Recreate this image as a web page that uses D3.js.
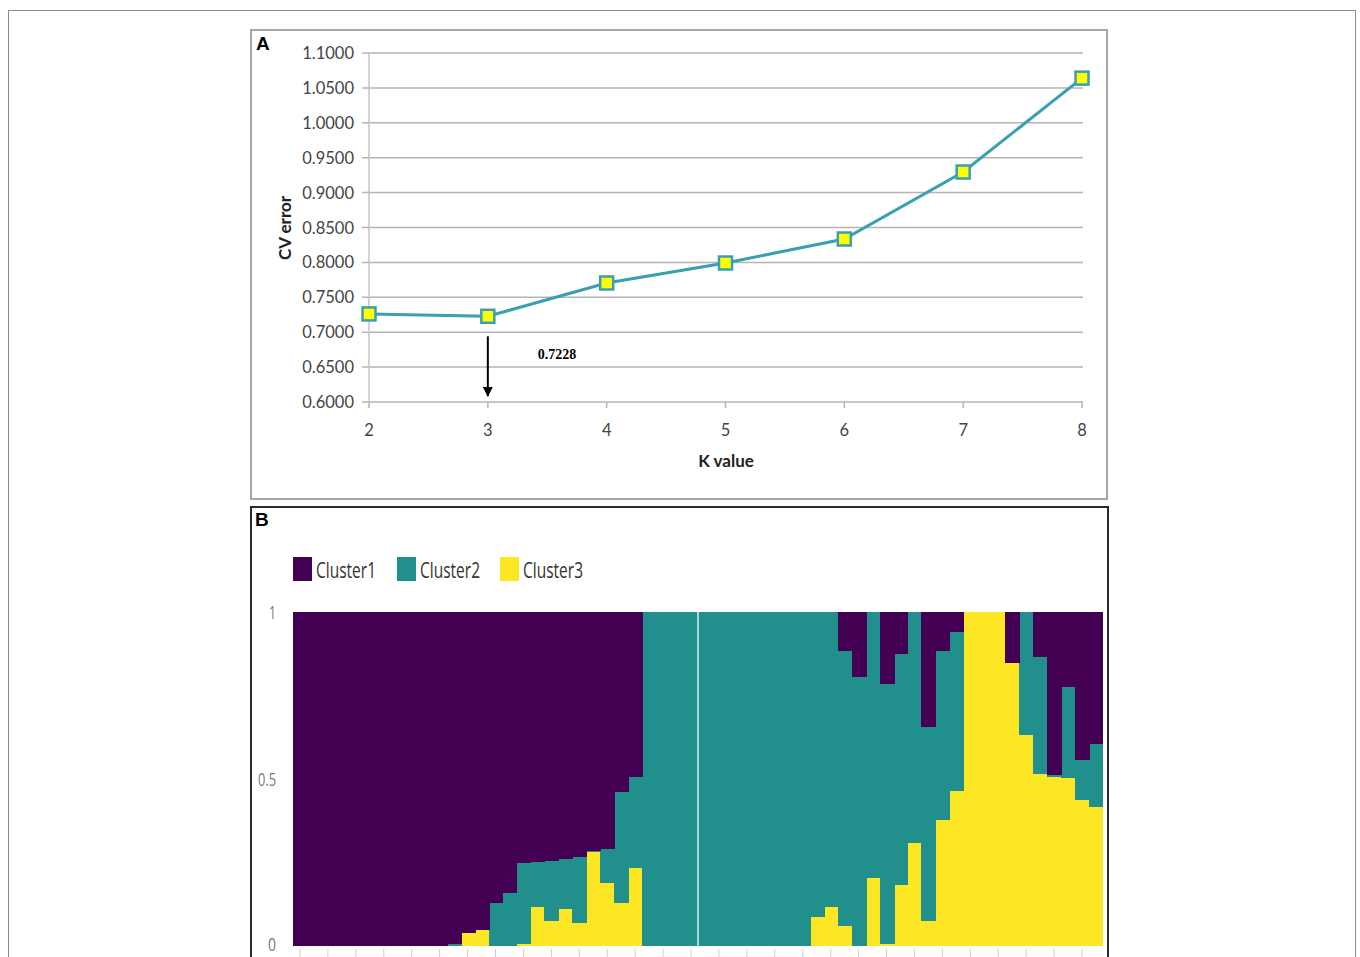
<!DOCTYPE html>
<html>
<head>
<meta charset="utf-8">
<script src="https://cdn.jsdelivr.net/npm/d3@7"></script>
<style>
    body { margin: 0; background: #fff; }
    svg { display: block; }
</style>
</head>
<body>
<script>

// Panel A: CV error by K
let kValues = [2, 3, 4, 5, 6, 7, 8];
let cvError = [0.7262, 0.7228, 0.7705, 0.7991, 0.8335, 0.9295, 1.0640];
let cvTicks = [0.60, 0.65, 0.70, 0.75, 0.80, 0.85, 0.90, 0.95, 1.00, 1.05, 1.10];

// Panel B: ancestry proportions, one entry per individual (58)
let cluster1 = [1, 1, 1, 1, 1, 1, 1, 1, 1, 1,
    1, 0.995, 0.96, 0.953, 0.87, 0.84, 0.75, 0.748, 0.745, 0.74,
    0.734, 0.715, 0.71, 0.54, 0.494, 0, 0, 0, 0, 0,
    0, 0, 0, 0, 0, 0, 0, 0, 0, 0.116,
    0.195, 0, 0.216, 0.126, 0, 0.343, 0.116, 0.06, 0, 0,
    0, 0.153, 0, 0.134, 0.488, 0.225, 0.444, 0.395];
let cluster2 = [0, 0, 0, 0, 0, 0, 0, 0, 0, 0,
    0, 0.005, 0, 0, 0.13, 0.16, 0.245, 0.134, 0.18, 0.15,
    0.198, 0.005, 0.10, 0.33, 0.273, 1, 1, 1, 1, 1,
    1, 1, 1, 1, 1, 1, 1, 0.914, 0.882, 0.824,
    0.805, 0.795, 0.779, 0.692, 0.693, 0.582, 0.508, 0.477, 0, 0,
    0, 0, 0.369, 0.352, 0.005, 0.272, 0.12, 0.188];
let cluster3 = [0, 0, 0, 0, 0, 0, 0, 0, 0, 0,
    0, 0, 0.04, 0.047, 0, 0, 0.005, 0.118, 0.075, 0.11,
    0.068, 0.28, 0.19, 0.13, 0.233, 0, 0, 0, 0, 0,
    0, 0, 0, 0, 0, 0, 0, 0.086, 0.118, 0.06,
    0, 0.205, 0.005, 0.182, 0.307, 0.075, 0.376, 0.463, 1, 1,
    1, 0.847, 0.631, 0.514, 0.507, 0.503, 0.436, 0.417];
let clusterNames = ["Cluster1", "Cluster2", "Cluster3"];
let clusterColors = ["#440154", "#21908d", "#fde725"];
let structTicks = [0, 0.5, 1];
let separators = [29];

let svg = d3.select("body").append("svg")
    .attr("width", 1360)
    .attr("height", 957);

// outer figure frame
svg.append("rect")
    .attr("x", 8.5).attr("y", 10.5)
    .attr("width", 1347).attr("height", 980)
    .attr("fill", "none").attr("stroke", "#8a8a8a");

/* ---------------- Panel A ---------------- */

svg.append("rect")
    .attr("x", 251).attr("y", 30)
    .attr("width", 856).attr("height", 469)
    .attr("fill", "#fff").attr("stroke", "#a6a6a6").attr("stroke-width", 2);

svg.append("text")
    .attr("x", 256).attr("y", 50)
    .attr("font-family", "Liberation Sans, Arial, sans-serif")
    .attr("font-weight", "bold").attr("font-size", 19)
    .text("A");

let xA = d3.scaleLinear().domain([2, 8]).range([369, 1082]);
let yA = d3.scaleLinear().domain([0.6, 1.1]).range([402, 53]);

//gridlines
svg.append("g")
    .selectAll("line")
    .data(cvTicks).enter().append("line")
    .attr("x1", 362)
    .attr("x2", xA(8) + 1)
    .attr("y1", function(d) { return yA(d); })
    .attr("y2", function(d) { return yA(d); })
    .attr("stroke", "#b4b4b4").attr("stroke-width", 1.5);

//y axis line
svg.append("line")
    .attr("x1", xA(2)).attr("x2", xA(2))
    .attr("y1", yA(1.1)).attr("y2", yA(0.6))
    .attr("stroke", "#c4c4c4").attr("stroke-width", 1.5);

//y tick labels
svg.append("g")
    .selectAll("text")
    .data(cvTicks).enter().append("text")
    .attr("x", 354)
    .attr("y", function(d) { return yA(d) + 6; })
    .attr("text-anchor", "end")
    .attr("font-family", "Lato, Open Sans, sans-serif")
    .attr("font-size", 16.5)
    .attr("fill", "#444")
    .text(function(d) { return d3.format(".4f")(d); });

//x axis ticks and labels
let xTickG = svg.append("g")
    .selectAll("g")
    .data(kValues).enter().append("g");

xTickG.append("line")
    .attr("x1", function(d) { return xA(d); })
    .attr("x2", function(d) { return xA(d); })
    .attr("y1", yA(0.6)).attr("y2", yA(0.6) + 6)
    .attr("stroke", "#b4b4b4").attr("stroke-width", 1.5);

xTickG.append("text")
    .attr("x", function(d) { return xA(d); })
    .attr("y", 436)
    .attr("text-anchor", "middle")
    .attr("font-family", "Lato, Open Sans, sans-serif")
    .attr("font-size", 16.5)
    .attr("fill", "#444")
    .text(function(d) { return d; });

//axis titles
svg.append("text")
    .attr("x", 726).attr("y", 467)
    .attr("text-anchor", "middle")
    .attr("font-family", "Lato, Open Sans, sans-serif")
    .attr("font-weight", "bold").attr("font-size", 17)
    .attr("fill", "#222")
    .text("K value");

svg.append("text")
    .attr("transform", "translate(291,228) rotate(-90)")
    .attr("text-anchor", "middle")
    .attr("font-family", "Lato, Open Sans, sans-serif")
    .attr("font-weight", "bold").attr("font-size", 17)
    .attr("fill", "#222")
    .text("CV error");

//line
let cvLine = d3.line()
    .x(function(d, i) { return xA(kValues[i]); })
    .y(function(d) { return yA(d); });

svg.append("path")
    .datum(cvError)
    .attr("d", cvLine)
    .attr("fill", "none")
    .attr("stroke", "#3a9fb3").attr("stroke-width", 3);

//markers
svg.append("g")
    .selectAll("rect")
    .data(cvError).enter().append("rect")
    .attr("x", function(d, i) { return xA(kValues[i]) - 6.5; })
    .attr("y", function(d) { return yA(d) - 6.5; })
    .attr("width", 13).attr("height", 13)
    .attr("fill", "#ffff00")
    .attr("stroke", "#3a9fb3").attr("stroke-width", 2.5);

//arrow pointing at the minimum
let best = cvError[1];
svg.append("defs").append("marker")
    .attr("id", "arrowHead")
    .attr("viewBox", "0 0 10 10")
    .attr("refX", 9).attr("refY", 5)
    .attr("markerWidth", 5).attr("markerHeight", 5)
    .attr("orient", "auto")
    .append("path")
    .attr("d", "M0,0 L10,5 L0,10 z")
    .attr("fill", "#000");

svg.append("line")
    .attr("x1", xA(kValues[1])).attr("x2", xA(kValues[1]))
    .attr("y1", yA(best) + 20).attr("y2", yA(0.6) - 6)
    .attr("stroke", "#000").attr("stroke-width", 2)
    .attr("marker-end", "url(#arrowHead)");

svg.append("text")
    .attr("x", 557).attr("y", 359)
    .attr("text-anchor", "middle")
    .attr("font-family", "Liberation Serif, Times New Roman, serif")
    .attr("font-weight", "bold").attr("font-size", 14)
    .text(best.toFixed(4));

/* ---------------- Panel B ---------------- */

svg.append("rect")
    .attr("x", 251).attr("y", 507)
    .attr("width", 857).attr("height", 480)
    .attr("fill", "#fff").attr("stroke", "#2a2a2a").attr("stroke-width", 2);

svg.append("text")
    .attr("x", 255).attr("y", 526)
    .attr("font-family", "Liberation Sans, Arial, sans-serif")
    .attr("font-weight", "bold").attr("font-size", 19)
    .text("B");

let xB = d3.scaleBand().domain(d3.range(cluster1.length)).range([293, 1103]);
let yB = d3.scaleLinear().domain([0, 1]).range([946, 612]);

let rows = cluster1.map(function(d, i) {
    return {idx: i, Cluster1: d, Cluster2: cluster2[i], Cluster3: cluster3[i]};
});

//yellow at the bottom, then teal, purple on top
let stackKeys = ["Cluster3", "Cluster2", "Cluster1"];
let stacked = d3.stack().keys(stackKeys)(rows);

let layers = svg.append("g")
    .attr("shape-rendering", "crispEdges")
    .selectAll("g")
    .data(stacked).enter().append("g")
    .attr("fill", function(d) { return clusterColors[clusterNames.indexOf(d.key)]; });

layers.selectAll("rect")
    .data(function(d) { return d; }).enter().append("rect")
    .attr("x", function(d) { return xB(d.data.idx); })
    .attr("y", function(d) { return yB(d[1]); })
    .attr("width", function(d) { return d.data.idx === cluster1.length - 1 ? xB.bandwidth() : xB.bandwidth() + 1; })
    .attr("height", function(d) { return Math.max(0, yB(d[0]) - yB(d[1])); });

//population separator
svg.append("g")
    .selectAll("line")
    .data(separators).enter().append("line")
    .attr("x1", function(d) { return xB(d); })
    .attr("x2", function(d) { return xB(d); })
    .attr("y1", yB(1)).attr("y2", yB(0))
    .attr("stroke", "#d8f0ef").attr("stroke-width", 1.5);

//y labels, narrow face
let yLabelWidth = {"0": 8, "0.5": 18, "1": 7};
svg.append("g")
    .selectAll("text")
    .data(structTicks).enter().append("text")
    .attr("x", function(d) { return 276 - yLabelWidth[String(d)]; })
    .attr("y", function(d) { return d === 0 ? yB(d) + 5 : yB(d) + 7; })
    .attr("textLength", function(d) { return yLabelWidth[String(d)]; })
    .attr("lengthAdjust", "spacingAndGlyphs")
    .attr("font-family", "Open Sans, sans-serif")
    .attr("font-size", 19)
    .attr("fill", "#777")
    .text(function(d) { return d; });

//bottom ticks under every other individual
svg.append("g")
    .selectAll("line")
    .data(d3.range(0, cluster1.length, 2)).enter().append("line")
    .attr("x1", function(d) { return xB(d) + xB.bandwidth() / 2; })
    .attr("x2", function(d) { return xB(d) + xB.bandwidth() / 2; })
    .attr("y1", 949).attr("y2", 957)
    .attr("stroke", "#cfcfcf").attr("stroke-width", 1);

//legend
let legendX = [293, 397, 500];
let legend = svg.append("g")
    .selectAll("g")
    .data(clusterNames).enter().append("g")
    .attr("transform", function(d, i) { return "translate(" + legendX[i] + ",557)"; });

legend.append("rect")
    .attr("width", 19).attr("height", 24)
    .attr("fill", function(d, i) { return clusterColors[i]; });

legend.append("text")
    .attr("x", 23).attr("y", 21)
    .attr("textLength", 60)
    .attr("lengthAdjust", "spacingAndGlyphs")
    .attr("font-family", "Open Sans, sans-serif")
    .attr("font-size", 22)
    .attr("fill", "#333")
    .text(function(d) { return d; });

</script>
</body>
</html>
